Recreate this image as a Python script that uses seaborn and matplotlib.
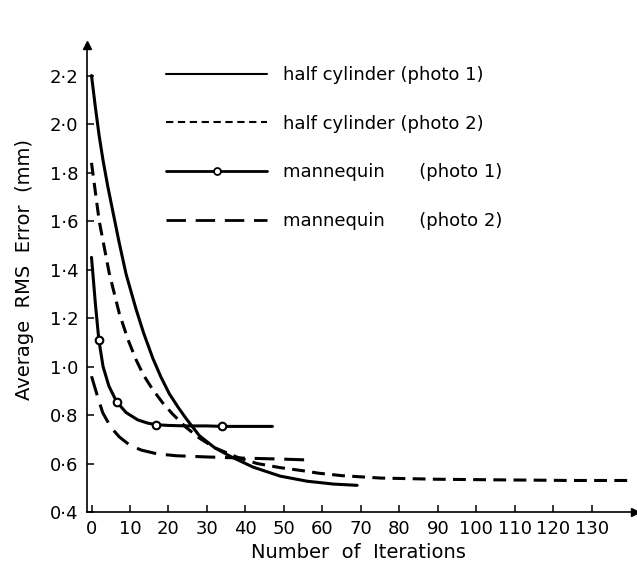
import matplotlib
matplotlib.use("Agg")
import matplotlib.pyplot as plt
from matplotlib.lines import Line2D
import pandas as pd
import seaborn as sns

# values
hc1_x = [0, 1, 2, 3, 4.2, 5.6, 7.2, 9, 11.6, 13.5, 15.9, 18, 20.2, 22.5, 24.5, 28, 32, 36, 42, 49, 56, 63, 69]
hc1_y = [2.20, 2.07, 1.95, 1.85, 1.745, 1.635, 1.51, 1.38, 1.235, 1.14, 1.035, 0.958, 0.888, 0.832, 0.787, 0.715,
         0.665, 0.63, 0.585, 0.548, 0.527, 0.515, 0.51]

hc2_x = [0, 2, 4.6, 7.2, 9.5, 11.6, 13.5, 15.9, 18.5, 21, 24.5, 28, 32, 38, 43, 49, 55, 59, 65, 75, 90, 110, 125, 139.5]
hc2_y = [1.84, 1.60, 1.385, 1.22, 1.11, 1.027, 0.965, 0.905, 0.85, 0.805, 0.75, 0.705, 0.665, 0.625, 0.60,
         0.583, 0.57, 0.56, 0.55, 0.54, 0.535, 0.532, 0.53, 0.53]

mq1_x = [0, 1, 1.9, 3, 4.5, 6.5, 9, 12, 14.5, 16.8, 20, 25, 30, 34, 40, 47]
mq1_y = [1.45, 1.26, 1.11, 1.0, 0.92, 0.855, 0.81, 0.78, 0.767, 0.76, 0.757, 0.755, 0.755, 0.753, 0.753, 0.753]
mq1_mark_x = [1.9, 6.5, 16.8, 34]
mq1_mark_y = [1.11, 0.855, 0.76, 0.753]

mq2_x = [0, 1.5, 2.9, 5, 7.2, 10, 13, 17, 22, 30, 40, 50, 55.5]
mq2_y = [0.96, 0.88, 0.81, 0.75, 0.71, 0.675, 0.655, 0.64, 0.632, 0.627, 0.622, 0.618, 0.615]

labels = ["half cylinder (photo 1)", "half cylinder (photo 2)",
          "mannequin      (photo 1)", "mannequin      (photo 2)"]

x_ticks = list(range(0, 140, 10))
y_ticks = [0.4, 0.6, 0.8, 1.0, 1.2, 1.4, 1.6, 1.8, 2.0, 2.2]
y_ticklabels = ["0·4", "0·6", "0·8", "1·0", "1·2", "1·4", "1·6", "1·8", "2·0", "2·2"]

frames = []
for name, xs, ys in zip(labels, [hc1_x, hc2_x, mq1_x, mq2_x], [hc1_y, hc2_y, mq1_y, mq2_y]):
    frames.append(pd.DataFrame({"iter": xs, "rms": ys, "series": name}))
df = pd.concat(frames, ignore_index=True)

sns.set_theme(style="white")
plt.rcParams["font.family"] = ["DejaVu Sans"]
plt.rcParams["text.color"] = "black"

fig = plt.figure(figsize=(6.37, 5.70), dpi=100)
ax = fig.add_axes([86.7 / 637, 1 - 512 / 570, (635 - 86.7) / 637, (512 - 45) / 570])

dash_map = {labels[0]: "", labels[1]: (4.2, 2.4), labels[2]: "", labels[3]: (6.5, 3.2)}
sns.lineplot(data=df, x="iter", y="rms", hue="series", style="series", sort=False,
             palette=["black"] * 4, dashes=dash_map, linewidth=2.2, ax=ax, legend=False)
sns.scatterplot(x=mq1_mark_x, y=mq1_mark_y, marker="o", s=30, facecolor="white",
                edgecolor="black", linewidth=1.5, ax=ax, zorder=5)

ax.set_xlim(-1.25, 141.2)
ax.set_ylim(0.4, 2.326)
ax.set_xticks(x_ticks)
ax.set_xticklabels([str(t) for t in x_ticks])
ax.set_yticks(y_ticks)
ax.set_yticklabels(y_ticklabels)
ax.tick_params(direction="in", length=5, width=1.1, labelsize=13, colors="black", pad=6)
ax.tick_params(axis="x", top=False, bottom=True)
ax.tick_params(axis="y", left=True, right=False)
for side in ["top", "right"]:
    ax.spines[side].set_visible(False)
for side in ["left", "bottom"]:
    ax.spines[side].set_color("black")
    ax.spines[side].set_linewidth(1.2)
ax.plot(1, 0, marker=">", color="black", markersize=6, transform=ax.transAxes, clip_on=False)
ax.plot(0, 1, marker="^", color="black", markersize=6, transform=ax.transAxes, clip_on=False)
ax.set_xlabel("")
ax.set_ylabel("")

fig.text(25 / 637, 1 - 270 / 570, "Average  RMS  Error  (mm)", rotation=90, ha="center", va="center",
         fontsize=14, color="black")
fig.text(358 / 637, 1 - 553 / 570, "Number  of  Iterations", ha="center", va="center",
         fontsize=14, color="black")

handles = [
    Line2D([], [], color="black", linewidth=1.5),
    Line2D([], [], color="black", linewidth=1.5, dashes=(3.5, 2.2)),
    Line2D([], [], color="black", linewidth=2, marker="o", markersize=5, markerfacecolor="white",
           markeredgewidth=1.3),
    Line2D([], [], color="black", linewidth=2, dashes=(7, 3.5)),
]
leg = ax.legend(handles, labels, loc="upper left", bbox_to_anchor=(166 / 637, 1 - 66 / 570),
                bbox_transform=fig.transFigure, frameon=False, fontsize=13, handlelength=5.6,
                handletextpad=0.9, labelspacing=1.7, borderpad=0, borderaxespad=0, numpoints=1)
for t in leg.get_texts():
    t.set_color("black")

fig.savefig("out.png", dpi=100)
